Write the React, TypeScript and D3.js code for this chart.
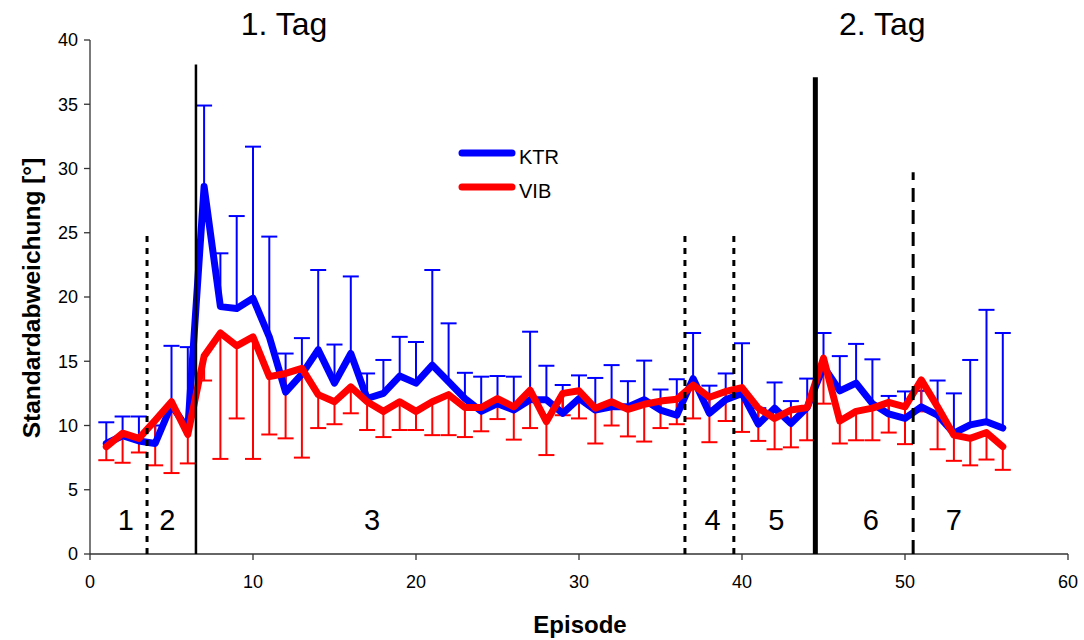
import React from 'react';
import * as d3 from 'd3';

// episode numbers 1..56
const episodes = [
  1, 2, 3, 4, 5, 6, 7, 8, 9, 10, 11, 12, 13, 14, 15, 16, 17, 18, 19, 20,
  21, 22, 23, 24, 25, 26, 27, 28, 29, 30, 31, 32, 33, 34, 35, 36, 37, 38, 39, 40,
  41, 42, 43, 44, 45, 46, 47, 48, 49, 50, 51, 52, 53, 54, 55, 56,
];

// KTR mean and upper error bar end
const ktrMean = [
  8.6, 9.2, 8.8, 8.6, 11.6, 9.7, 28.6, 19.25, 19.1, 19.9, 16.9, 12.6, 14.0, 15.9, 13.3, 15.6, 12.1, 12.5, 13.85, 13.3,
  14.7, 13.4, 12.1, 11.1, 11.7, 11.2, 12.0, 12.0, 10.95, 12.1, 11.2, 11.45, 11.45, 12.0, 11.2, 10.8, 13.65, 10.95, 12.0, 12.5,
  10.1, 11.35, 10.15, 11.4, 14.6, 12.7, 13.3, 11.7, 10.9, 10.55, 11.45, 10.8, 9.4, 10.05, 10.3, 9.8,
];
const ktrUpper = [
  10.25, 10.7, 10.7, 10.0, 16.2, 16.1, 34.9, 23.4, 26.3, 31.7, 24.7, 15.6, 16.8, 22.1, 16.3, 21.6, 14.05, 15.1, 16.9, 16.5,
  22.1, 17.95, 14.1, 13.8, 13.85, 13.8, 17.3, 14.65, 13.15, 13.9, 13.7, 14.7, 13.45, 15.05, 12.8, 13.6, 17.2, 13.1, 14.05, 16.4,
  11.35, 13.35, 11.9, 13.65, 17.2, 15.4, 16.35, 15.15, 12.3, 12.65, 12.7, 13.5, 12.5, 15.1, 19.0, 17.2,
];

// VIB mean and lower error bar end
const vibMean = [
  8.35, 9.4, 9.0, 10.4, 11.85, 9.3, 15.4, 17.2, 16.2, 16.9, 13.8, 14.05, 14.45, 12.4, 11.85, 13.0, 11.85, 11.1, 11.85, 11.1,
  11.85, 12.4, 11.4, 11.4, 12.1, 11.45, 12.75, 10.3, 12.5, 12.7, 11.35, 11.85, 11.25, 11.65, 11.9, 12.05, 13.15, 12.2, 12.65, 12.95,
  11.35, 10.55, 11.2, 11.4, 15.25, 10.35, 11.1, 11.35, 11.8, 11.45, 13.55, 11.45, 9.25, 9.0, 9.45, 8.35,
];
const vibLower = [
  7.3, 7.1, 7.9, 6.9, 6.3, 7.05, 13.5, 7.4, 10.55, 7.4, 9.3, 9.0, 7.5, 9.8, 10.1, 10.95, 9.65, 9.1, 9.65, 9.65,
  9.25, 9.25, 9.1, 9.55, 10.5, 8.9, 9.8, 7.7, 10.8, 10.55, 8.6, 10.0, 9.15, 8.75, 9.8, 10.1, 10.55, 8.7, 10.35, 9.5,
  8.8, 8.15, 8.3, 8.85, 11.7, 8.6, 8.85, 8.85, 9.45, 8.55, 11.1, 8.15, 7.25, 6.9, 7.35, 6.55,
];

// phase separators: position, top value, style
const sepPos = [3.5, 6.5, 36.5, 39.5, 44.5, 50.5];
const sepTop = [25, 38.1, 25, 25, 37.1, 29.7];
const sepKind = ['dot', 'solid', 'dot', 'dot', 'thick', 'dash'];

const phaseLabels = ['1', '2', '3', '4', '5', '6', '7'];
const phasePos = [2.2, 4.75, 17.3, 38.2, 42.1, 47.9, 53.0];

const dayLabels = ['1. Tag', '2. Tag'];
const dayPos = [11.9, 48.6];

const xTicks = [0, 10, 20, 30, 40, 50, 60];
const yTicks = [0, 5, 10, 15, 20, 25, 30, 35, 40];

const BLUE = '#0000ff';
const RED = '#ff0000';
const FONT = 'Liberation Sans, Arial, sans-serif';

export default function App() {
  const width = 1084;
  const height = 640;
  const x = d3.scaleLinear().domain([0, 60]).range([90, 1068]);
  const y = d3.scaleLinear().domain([0, 40]).range([554, 40]);

  const line = d3
    .line<number>()
    .x((_, i) => x(episodes[i]))
    .y((d) => y(d));

  const cap = 8;

  const sepStyle = (k: string) => {
    if (k === 'dot') return { w: 3, dash: '6 6' };
    if (k === 'dash') return { w: 3, dash: '14 8' };
    if (k === 'thick') return { w: 5, dash: undefined };
    return { w: 2.5, dash: undefined };
  };

  return (
    <svg width={width} height={height} style={{ display: 'block', position: 'absolute', left: 0, top: 0 }}>
      <rect width={width} height={height} fill="#fff" />

      {/* axes */}
      <line x1={x(0)} x2={x(0)} y1={y(0)} y2={y(40)} stroke="#333" strokeWidth={1.3} />
      <line x1={x(0)} x2={x(60)} y1={y(0)} y2={y(0)} stroke="#333" strokeWidth={1.3} />
      {yTicks.map((t) => (
        <g key={'y' + t}>
          <line x1={x(0) - 6} x2={x(0)} y1={y(t)} y2={y(t)} stroke="#333" strokeWidth={1.3} />
          <text x={x(0) - 12} y={y(t)} dy="0.35em" textAnchor="end" fontSize={18} fontFamily={FONT}>
            {t}
          </text>
        </g>
      ))}
      {xTicks.map((t) => (
        <g key={'x' + t}>
          <line x1={x(t)} x2={x(t)} y1={y(0)} y2={y(0) + 6} stroke="#333" strokeWidth={1.3} />
          <text x={x(t)} y={y(0) + 34} textAnchor="middle" fontSize={18} fontFamily={FONT}>
            {t}
          </text>
        </g>
      ))}

      <text
        transform={`translate(40,298) rotate(-90)`}
        textAnchor="middle"
        fontSize={24.5}
        fontWeight="bold"
        fontFamily={FONT}
      >
        Standardabweichung [°]
      </text>
      <text x={580} y={633} textAnchor="middle" fontSize={24} fontWeight="bold" fontFamily={FONT}>
        Episode
      </text>

      {/* error bars */}
      {episodes.map((e, i) => (
        <g key={'kb' + e} stroke={BLUE} strokeWidth={2}>
          <line x1={x(e)} x2={x(e)} y1={y(ktrMean[i])} y2={y(ktrUpper[i])} />
          <line x1={x(e) - cap} x2={x(e) + cap} y1={y(ktrUpper[i])} y2={y(ktrUpper[i])} />
        </g>
      ))}
      {episodes.map((e, i) => (
        <g key={'vb' + e} stroke={RED} strokeWidth={2}>
          <line x1={x(e)} x2={x(e)} y1={y(vibMean[i])} y2={y(vibLower[i])} />
          <line x1={x(e) - cap} x2={x(e) + cap} y1={y(vibLower[i])} y2={y(vibLower[i])} />
        </g>
      ))}

      {/* mean lines */}
      <path d={line(ktrMean) || ''} fill="none" stroke={BLUE} strokeWidth={7} strokeLinejoin="round" strokeLinecap="round" />
      <path d={line(vibMean) || ''} fill="none" stroke={RED} strokeWidth={7} strokeLinejoin="round" strokeLinecap="round" />

      {/* phase separators */}
      {sepPos.map((p, i) => {
        const s = sepStyle(sepKind[i]);
        return (
          <line
            key={'s' + p}
            x1={x(p)}
            x2={x(p)}
            y1={y(0)}
            y2={y(sepTop[i])}
            stroke="#000"
            strokeWidth={s.w}
            strokeDasharray={s.dash}
          />
        );
      })}

      {phaseLabels.map((l, i) => (
        <text key={'p' + l} x={x(phasePos[i])} y={530} textAnchor="middle" fontSize={29} fontFamily={FONT}>
          {l}
        </text>
      ))}
      {dayLabels.map((l, i) => (
        <text key={'d' + l} x={x(dayPos[i])} y={35} textAnchor="middle" fontSize={32} fontFamily={FONT}>
          {l}
        </text>
      ))}

      {/* legend */}
      <line x1={462} x2={512} y1={153} y2={153} stroke={BLUE} strokeWidth={7} strokeLinecap="round" />
      <text x={519} y={164} fontSize={20} fontFamily={FONT}>
        KTR
      </text>
      <line x1={462} x2={512} y1={187} y2={187} stroke={RED} strokeWidth={7} strokeLinecap="round" />
      <text x={519} y={198} fontSize={20} fontFamily={FONT}>
        VIB
      </text>
    </svg>
  );
}
